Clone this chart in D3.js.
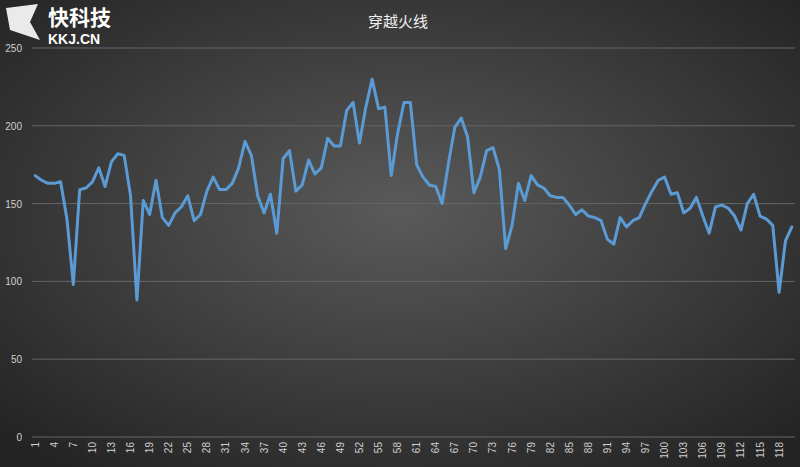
<!DOCTYPE html>
<html><head><meta charset="utf-8">
<script src="https://cdn.jsdelivr.net/npm/d3@7"></script>
<style>body{margin:0;background:#333}</style>
</head><body><div id="chart"></div>
<script>
const title = '穿越火线';
const values = [168,165,163,163,164,140,98,159,160,164,173,161,177,182,181,155,88,152,143,165,
  141,136,144,148,155,139,143,158,167,159,159,163,173,190,181,155,144,156,131,179,
  184,158,162,178,169,173,192,187,187,210,215,189,212,230,211,212,168,195,215,215,
  175,167,162,161,150,176,199,205,193,157,167,184,186,172,121,136,163,152,168,162,
  160,155,154,154,149,143,146,142,141,139,127,124,141,135,139,141,150,158,165,167,
  156,157,144,147,154,142,131,148,149,147,142,133,150,156,142,140,136,93,126,135];
const categories = values.map((d, i) => i + 1);
const yTicks = [0, 50, 100, 150, 200, 250];

const width = 800, height = 467;
const svg = d3.select('#chart').append('svg').attr('width', width).attr('height', height);

const grad = svg.append('defs').append('radialGradient').attr('id', 'bg')
  .attr('cx', '50%').attr('cy', '45%').attr('r', '70%');
grad.append('stop').attr('offset', '0%').attr('stop-color', '#5a5a5a');
grad.append('stop').attr('offset', '100%').attr('stop-color', '#232323');
svg.append('rect').attr('width', width).attr('height', height).attr('fill', 'url(#bg)');

const x = d3.scaleBand().domain(categories).range([32, 795]);
const y = d3.scaleLinear().domain([0, 250]).range([437, 48]);

// grid lines
svg.append('g').selectAll('line').data(yTicks).join('line')
  .attr('x1', 32).attr('x2', 795)
  .attr('y1', d => y(d)).attr('y2', d => y(d))
  .attr('stroke', '#666').attr('stroke-width', 1);

svg.append('g').selectAll('text').data(yTicks).join('text')
  .attr('x', 22).attr('y', d => y(d) + 4)
  .attr('text-anchor', 'end').attr('fill', '#cfcfcf')
  .attr('font-family', 'Liberation Sans, Arial').attr('font-size', 10)
  .text(d => d);

svg.append('g').selectAll('text').data(categories.filter((d, i) => i % 3 === 0)).join('text')
  .attr('transform', d => `translate(${x(d) + x.bandwidth() / 2 + 3.5},442) rotate(-90)`)
  .attr('text-anchor', 'end').attr('fill', '#cfcfcf')
  .attr('font-family', 'Liberation Sans, Arial').attr('font-size', 10)
  .text(d => d);

const line = d3.line().x((d, i) => x(categories[i]) + x.bandwidth() / 2).y(d => y(d));
svg.append('path').datum(values).attr('d', line)
  .attr('fill', 'none').attr('stroke', '#5b9bd5').attr('stroke-width', 3)
  .attr('stroke-linejoin', 'round').attr('stroke-linecap', 'round');

svg.append('text').attr('x', 398).attr('y', 27).attr('text-anchor', 'middle')
  .attr('fill', '#f0f0f0').attr('font-size', 15)
  .attr('font-family', 'Noto Sans CJK SC').text(title);

// watermark logo
svg.append('path').attr('d', 'M6,8 L38,4 L30,22 L40,40 L10,30 Z').attr('fill', '#ffffff').attr('opacity', 0.9);
svg.append('text').attr('x', 48).attr('y', 25).attr('fill', '#ffffff')
  .attr('font-size', 21).attr('font-weight', 'bold')
  .attr('font-family', 'Noto Sans CJK SC').text('快科技');
svg.append('text').attr('x', 48).attr('y', 44).attr('fill', '#ffffff')
  .attr('font-size', 14).attr('font-weight', 'bold')
  .attr('font-family', 'Liberation Sans, Arial').text('KKJ.CN');
</script></body></html>
